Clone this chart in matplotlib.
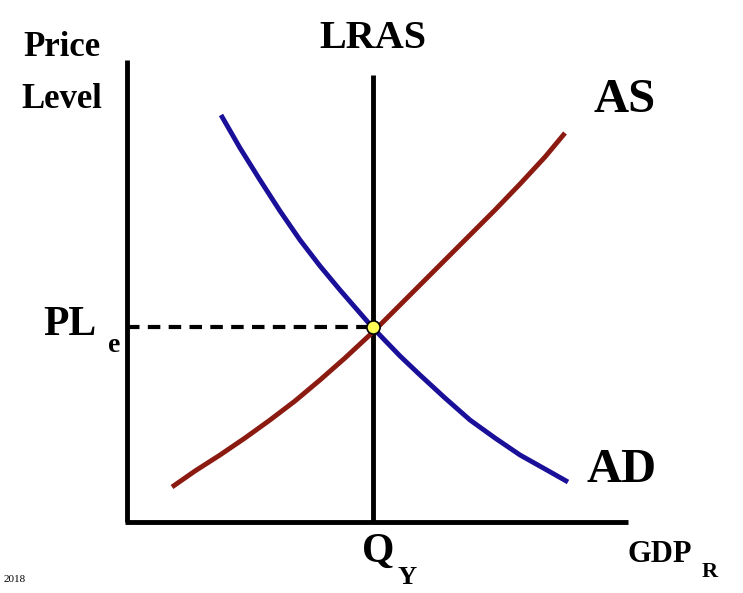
import matplotlib
matplotlib.use("Agg")
import matplotlib.pyplot as plt

# curve points (pixel coords, y down)
ad_x = [221, 240, 260, 280, 300, 320, 340, 373, 400, 420, 445, 470, 495, 520, 545, 568]
ad_y = [115, 148, 180, 211, 240, 266, 290, 328, 356, 375, 398, 420, 438, 455, 469, 482]
as_x = [172, 195, 220, 245, 270, 295, 320, 345, 373, 400, 420, 445, 470, 495, 520, 545, 565]
as_y = [487, 471, 455, 438, 420, 401, 380, 358, 332, 305, 285, 260, 235, 210, 184, 157, 133]
eq_x, eq_y = 373, 327

fig = plt.figure(figsize=(7.43, 5.93), dpi=100)
ax = fig.add_axes([0, 0, 1, 1])
ax.set_xlim(0, 743)
ax.set_ylim(593, 0)
ax.axis('off')

font = dict(family='Liberation Serif', weight='bold', color='black')

# axes
ax.plot([127, 127], [60, 522], color='black', lw=3.5, solid_capstyle='butt')
ax.plot([125, 628], [522, 522], color='black', lw=3.5, solid_capstyle='butt')
# LRAS
ax.plot([eq_x, eq_x], [75, 522], color='black', lw=3.5, solid_capstyle='butt')
# dashed guide
ax.plot([127, eq_x], [eq_y, eq_y], color='black', lw=3, ls=(0, (3, 2)))

ax.plot(as_x, as_y, color='#8b1a10', lw=3.5, solid_capstyle='butt')
ax.plot(ad_x, ad_y, color='#1a0f99', lw=3.5, solid_capstyle='butt')
ax.scatter([eq_x], [eq_y], s=90, color='#ffff55', edgecolor='black', lw=1.2, zorder=5)

ax.text(62, 48, 'Price', ha='center', va='center', fontsize=25, **font)
ax.text(62, 100, 'Level', ha='center', va='center', fontsize=25, **font)
ax.text(373, 38, 'LRAS', ha='center', va='center', fontsize=29, **font)
ax.text(625, 100, 'AS', ha='center', va='center', fontsize=35, **font)
ax.text(622, 470, 'AD', ha='center', va='center', fontsize=35, **font)
ax.text(70, 325, 'PL', ha='center', va='center', fontsize=30, **font)
ax.text(114, 346, 'e', ha='center', va='center', fontsize=20, **font)
ax.text(378, 552, 'Q', ha='center', va='center', fontsize=30, **font)
ax.text(407, 578, 'Y', ha='center', va='center', fontsize=19, **font)
ax.text(660, 555, 'GDP', ha='center', va='center', fontsize=22, **font)
ax.text(710, 572, 'R', ha='center', va='center', fontsize=16, **font)
ax.text(4, 580, '2018', ha='left', va='center', fontsize=8, family='Liberation Serif')

fig.savefig('out.png', dpi=100)
